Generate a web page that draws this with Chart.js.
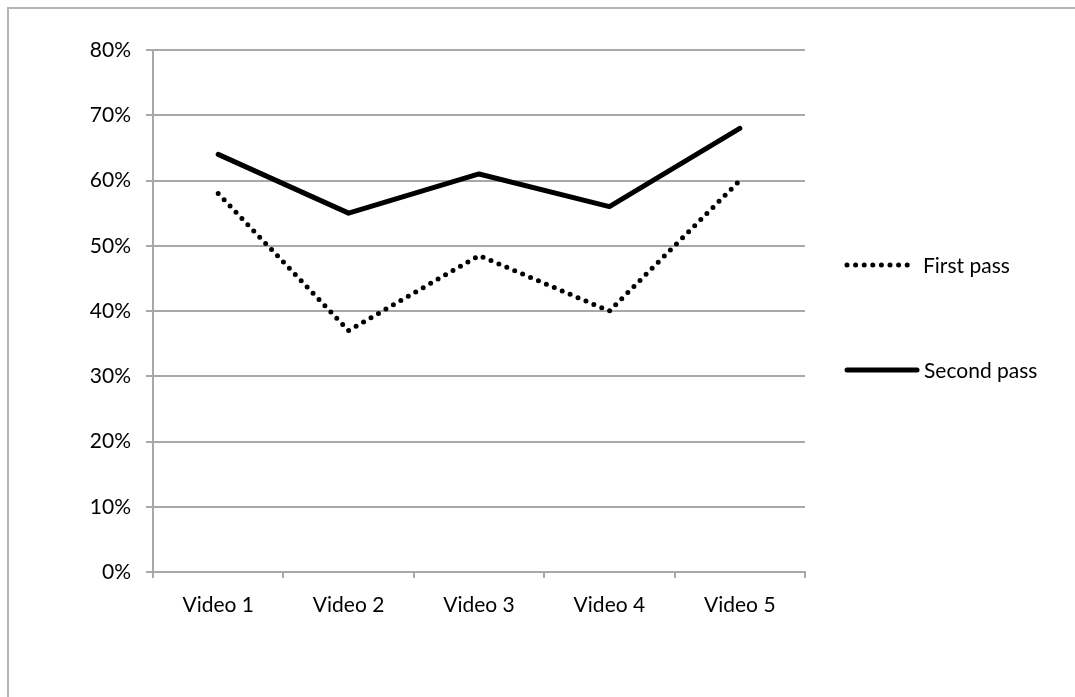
<!DOCTYPE html>
<html lang="en">
<head>
  <meta charset="UTF-8" />
  <title>First vs second pass</title>
  <script src="https://cdn.jsdelivr.net/npm/chart.js"></script>
  <style>
    html, body { margin: 0; padding: 0; background: #fff; }
    .frame {
      position: absolute; left: 7px; top: 7px; right: -4px; bottom: -4px;
      border-top: 2px solid #b5b5b5; border-left: 2px solid #b5b5b5;
    }
    .wrap { position: absolute; left: 0; top: 0; width: 1075px; height: 697px; }
  </style>
</head>
<body>
  <div class="frame"></div>
  <div class="wrap"><canvas id="passChart" width="1075" height="697"></canvas></div>

  <script>
    // Data
    const videos = ['Video 1', 'Video 2', 'Video 3', 'Video 4', 'Video 5'];
    const firstPass = [58, 37, 48.5, 40, 60];
    const secondPass = [64, 55, 61, 56, 68];
    const seriesNames = ['First pass', 'Second pass'];

    const FONT = "Lato, 'Open Sans', sans-serif";
    const FONT_SIZE = 21;
    const GRID = '#a8a8a8';

    // Legend drawn to the right of the plot, one sample line per series
    const sideLegend = {
      id: 'sideLegend',
      afterDraw(chart) {
        const { ctx, chartArea } = chart;
        const mid = (chartArea.top + chartArea.bottom) / 2 + 6;
        const x0 = chartArea.right + 42;
        chart.data.datasets.forEach((ds, i) => {
          const y = mid + (i === 0 ? -52 : 53);
          ctx.save();
          ctx.strokeStyle = ds.borderColor;
          ctx.lineWidth = ds.borderWidth;
          ctx.lineCap = ds.borderCapStyle || 'butt';
          ctx.setLineDash(ds.borderDash || []);
          ctx.beginPath();
          ctx.moveTo(x0, y);
          ctx.lineTo(x0 + (i === 0 ? 64 : 70), y);
          ctx.stroke();
          ctx.restore();
          ctx.save();
          ctx.fillStyle = '#000';
          ctx.font = FONT_SIZE + 'px ' + FONT;
          ctx.textBaseline = 'middle';
          ctx.fillText(ds.label, x0 + (i === 0 ? 76 : 77), y + 1);
          ctx.restore();
        });
      }
    };

    const ctx = document.getElementById('passChart').getContext('2d');
    new Chart(ctx, {
      type: 'line',
      data: {
        labels: videos,
        datasets: [{
          label: seriesNames[0],
          data: firstPass,
          borderColor: '#000',
          borderWidth: 5,
          borderDash: [0, 8.6],
          borderCapStyle: 'round',
          pointRadius: 0,
          tension: 0,
          fill: false
        }, {
          label: seriesNames[1],
          data: secondPass,
          borderColor: '#000',
          borderWidth: 5,
          borderCapStyle: 'round',
          borderJoinStyle: 'round',
          pointRadius: 0,
          tension: 0,
          fill: false
        }]
      },
      options: {
        responsive: false,
        animation: false,
        layout: { padding: { top: 50, right: 270, left: 0, bottom: 0 } },
        plugins: {
          legend: { display: false },
          tooltip: { enabled: false }
        },
        scales: {
          x: {
            offset: true,
            afterFit: s => { s.height = 125; },
            grid: {
              offset: true,
              drawOnChartArea: false,
              drawTicks: true,
              tickLength: 6,
              color: GRID,
              lineWidth: 2
            },
            border: { display: true, color: GRID, width: 2 },
            ticks: { color: '#000', font: { family: FONT, size: FONT_SIZE }, padding: 15, maxRotation: 0 }
          },
          y: {
            min: 0,
            max: 80,
            afterFit: s => { s.width = 153; },
            grid: { color: GRID, lineWidth: 2, tickLength: 7 },
            border: { display: true, color: GRID, width: 2 },
            ticks: {
              stepSize: 10,
              color: '#000',
              font: { family: FONT, size: FONT_SIZE },
              padding: 15,
              callback: v => v + '%'
            }
          }
        }
      },
      plugins: [sideLegend]
    });
  </script>
</body>
</html>
